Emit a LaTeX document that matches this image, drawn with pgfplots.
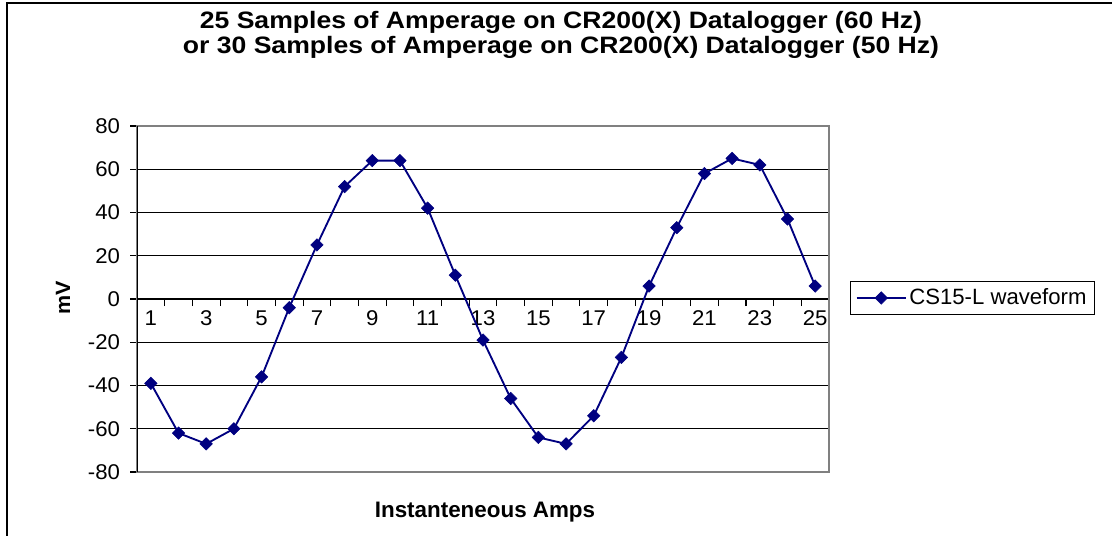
\documentclass[border=0pt]{standalone}
\usepackage{fontspec}
\setmainfont{Liberation Sans}
\newfontfamily\tickfont[FakeStretch=1.04]{Liberation Sans}
\newfontfamily\titlefont[FakeStretch=1.12]{Liberation Sans}
\usepackage{pgfplots}
\pgfplotsset{compat=1.18}
\definecolor{navy}{RGB}{0,0,128}
\definecolor{bordergray}{RGB}{128,128,128}
\pgfplotstableread{
x y
1 -39
2 -62
3 -67
4 -60
5 -36
6 -4
7 25
8 52
9 64
10 64
11 42
12 11
13 -19
14 -46
15 -64
16 -67
17 -54
18 -27
19 6
20 33
21 58
22 65
23 62
24 37
25 6
}\wave
\begin{document}
\begin{tikzpicture}
\useasboundingbox (0,0) rectangle (834pt,-401.25pt);
\draw[line width=1.2pt] (5.25pt,-405pt) -- (5.25pt,-2.25pt) -- (840pt,-2.25pt);
% title
\node[anchor=base, font={\titlefont\bfseries\fontsize{17.8pt}{20pt}\selectfont}] at (420.75pt,-21.6pt) {25 Samples of Amperage on CR200(X) Datalogger (60 Hz)};
\node[anchor=base, font={\titlefont\bfseries\fontsize{17.8pt}{20pt}\selectfont}] at (420.75pt,-40pt) {or 30 Samples of Amperage on CR200(X) Datalogger (50 Hz)};
% axis labels
\node[rotate=90, font={\tickfont\bfseries\fontsize{15.5pt}{18pt}\selectfont}] at (47.25pt,-223.5pt) {mV};
\node[anchor=base, font={\bfseries\fontsize{16.8pt}{19pt}\selectfont}] at (363.75pt,-387.75pt) {Instanteneous Amps};
% overlay x axis at y=0
\begin{axis}[
  at={(102.75pt,-354pt)}, anchor=south west,
  scale only axis, width=519pt, height=259.5pt,
  xmin=0.5, xmax=25.5, ymin=-80, ymax=80,
  axis x line=middle, axis y line=none,
  axis line style={-, black, line width=0.8pt},
  xtick={1,3,...,25},
  xticklabels={1,3,5,7,9,11,13,15,17,19,21,23,25},
  major tick length=0pt,
  minor xtick={0.5,1.5,...,25.5},
  minor tick length=5.25pt,
  tick align=outside,
  tick style={black, line width=0.8pt},
  xticklabel style={font={\tickfont\fontsize{16pt}{18pt}\selectfont}, yshift=-5pt},
]
\addplot[draw=none] coordinates {(1,0)};
\end{axis}
\begin{axis}[
  at={(102.75pt,-354pt)}, anchor=south west,
  scale only axis, width=519pt, height=259.5pt,
  xmin=0.5, xmax=25.5, ymin=-80, ymax=80,
  axis line style={bordergray, line width=1pt},
  xtick=\empty,
  ytick={-80,-60,...,80},
  yticklabels={-80,-60,-40,-20,0,20,40,60,80},
  ytick pos=left,
  tick align=outside,
  major tick length=5.25pt,
  tick style={black, line width=0.8pt},
  ymajorgrids,
  grid style={black, line width=0.6pt},
  yticklabel style={font={\tickfont\fontsize{16pt}{18pt}\selectfont}, xshift=-4pt},
  legend style={at={(1.0303,0.503)}, anchor=west, draw=black, line width=0.7pt,
    font={\fontsize{16.6pt}{19pt}\selectfont}, inner xsep=4pt, inner ysep=3.5pt},
  legend image code/.code={\draw[mark repeat=2,mark phase=2,#1] plot coordinates {(0pt,0pt)(18.4pt,0pt)(36.8pt,0pt)};},
]
\addplot[navy, line width=1.4pt, mark=square*, mark size=3.3pt,
  mark options={rotate=45, fill=navy, draw=navy, line width=0.4pt}] table[x=x,y=y] {\wave};
\addlegendentry{CS15-L waveform}
\draw[black, line width=1pt] (rel axis cs:0,0) -- (rel axis cs:0,1);
\end{axis}
\end{tikzpicture}
\end{document}
